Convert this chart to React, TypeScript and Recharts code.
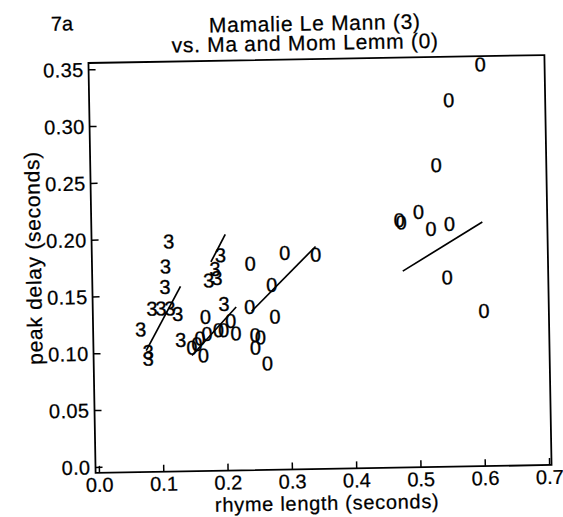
import React from "react";
import {
  ScatterChart,
  Scatter,
  XAxis,
  YAxis,
  ReferenceLine,
  ReferenceArea,
} from "recharts";

// Mamalie Le Mann (3)
const mamalieX = [0.114, 0.108, 0.107, 0.086, 0.1, 0.114, 0.126, 0.068, 0.079, 0.079, 0.13, 0.198, 0.194, 0.185, 0.175, 0.188];
const mamalieY = [0.198, 0.176, 0.158, 0.139, 0.139, 0.139, 0.134, 0.121, 0.101, 0.095, 0.111, 0.142, 0.185, 0.173, 0.163, 0.165];

// Ma and Mom Lemm (0)
const lemmX = [
  0.169, 0.147, 0.155, 0.16, 0.171, 0.165, 0.189, 0.197, 0.208, 0.216, 0.238, 0.246, 0.254, 0.246, 0.264,
  0.277, 0.273, 0.24, 0.294, 0.342, 0.603, 0.553, 0.532, 0.473, 0.476, 0.503, 0.522, 0.551, 0.546, 0.602,
];
const lemmY = [
  0.131, 0.104, 0.107, 0.112, 0.116, 0.097, 0.119, 0.119, 0.127, 0.116, 0.139, 0.114, 0.112, 0.103, 0.089,
  0.13, 0.158, 0.177, 0.186, 0.184, 0.349, 0.318, 0.261, 0.213, 0.211, 0.22, 0.205, 0.209, 0.162, 0.132,
];

// fitted line segments [x1, y1, x2, y2]
const fitLines = [
  [0.076, 0.102, 0.131, 0.158],
  [0.179, 0.179, 0.202, 0.203],
  [0.147, 0.097, 0.217, 0.139],
  [0.241, 0.135, 0.342, 0.191],
  [0.477, 0.168, 0.602, 0.21],
];

const xTicks = [0, 0.1, 0.2, 0.3, 0.4, 0.5, 0.6, 0.7];
const xTickLabels = ["0.0", "0.1", "0.2", "0.3", "0.4", "0.5", "0.6", "0.7"];
const yTicks = [0, 0.05, 0.1, 0.15, 0.2, 0.25, 0.3, 0.35];
const yTickLabels = ["0.0", "0.05", "0.10", "0.15", "0.20", "0.25", "0.30", "0.35"];

const X_DOMAIN: [number, number] = [-0.006, 0.703];
const Y_DOMAIN: [number, number] = [-0.0049, 0.356];

const FONT = "'Liberation Sans', Arial, Helvetica, sans-serif";
const INK = "#000";

const mamalie = mamalieX.map((x, i) => ({ x, y: mamalieY[i] }));
const lemm = lemmX.map((x, i) => ({ x, y: lemmY[i] }));

const glyph = (ch: string) => (props: any) => (
  <text
    x={props.cx}
    y={props.cy + 7.2}
    textAnchor="middle"
    fontSize={20}
    fontFamily={FONT}
    fill={INK}
    stroke={INK}
    strokeWidth={0.35}
  >
    {ch}
  </text>
);

const XTick = (props: any) => {
  const { x, y, payload } = props;
  const i = xTicks.indexOf(payload.value);
  return (
    <g>
      <line x1={x} y1={y} x2={x} y2={y - 7} stroke={INK} strokeWidth={1.5} />
      <text x={x} y={y + 19} textAnchor="middle" fontSize={20} fontFamily={FONT} fill={INK} stroke={INK} strokeWidth={0.25}>
        {xTickLabels[i]}
      </text>
    </g>
  );
};

const YTick = (props: any) => {
  const { x, y, payload } = props;
  const i = yTicks.indexOf(payload.value);
  return (
    <g>
      <line x1={x} y1={y} x2={x + 7} y2={y} stroke={INK} strokeWidth={1.5} />
      <text x={x - 5} y={y + 7} textAnchor="end" fontSize={20} letterSpacing={0.4} fontFamily={FONT} fill={INK} stroke={INK} strokeWidth={0.25}>
        {yTickLabels[i]}
      </text>
    </g>
  );
};

export default function App() {
  return (
    <div
      style={{
        position: "absolute",
        left: 0,
        top: 0,
        width: 563,
        height: 517,
        transform: "rotate(-1deg)",
        transformOrigin: "319.6px 263.9px",
      }}
    >
      <ScatterChart
        width={563}
        height={517}
        margin={{ top: 59, right: 15, bottom: 0, left: 0 }}
      >
        <XAxis
          type="number"
          dataKey="x"
          domain={X_DOMAIN}
          allowDataOverflow
          ticks={xTicks}
          interval={0}
          height={48}
          tickSize={0}
          tickMargin={0}
          axisLine={false}
          tickLine={false}
          tick={<XTick />}
        />
        <YAxis
          type="number"
          dataKey="y"
          domain={Y_DOMAIN}
          allowDataOverflow
          ticks={yTicks}
          interval={0}
          width={92}
          tickSize={0}
          tickMargin={0}
          axisLine={false}
          tickLine={false}
          tick={<YTick />}
        />
        <ReferenceArea
          x1={X_DOMAIN[0]}
          x2={X_DOMAIN[1]}
          y1={Y_DOMAIN[0]}
          y2={Y_DOMAIN[1]}
          fill="none"
          stroke={INK}
          strokeWidth={1.8}
          ifOverflow="visible"
        />
        {fitLines.map((s, i) => (
          <ReferenceLine
            key={i}
            segment={[
              { x: s[0], y: s[1] },
              { x: s[2], y: s[3] },
            ]}
            stroke={INK}
            strokeWidth={1.7}
            ifOverflow="visible"
          />
        ))}
        <Scatter data={lemm} shape={glyph("0")} isAnimationActive={false} />
        <Scatter data={mamalie} shape={glyph("3")} isAnimationActive={false} />
      </ScatterChart>
      <svg
        width={563}
        height={517}
        style={{ position: "absolute", left: 0, top: 0, pointerEvents: "none" }}
      >
        <g fontFamily={FONT} fill={INK} stroke={INK} strokeWidth={0.25}>
          <text x={55} y={26} fontSize={20}>
            7a
          </text>
          <text x={319} y={30.5} fontSize={21} letterSpacing={0.7} textAnchor="middle">
            Mamalie Le Mann (3)
          </text>
          <text x={309} y={50} fontSize={21} letterSpacing={0.7} textAnchor="middle">
            vs. Ma and Mom Lemm (0)
          </text>
          <text x={323} y={510} fontSize={20} letterSpacing={0.7} textAnchor="middle">
            rhyme length (seconds)
          </text>
          <text
            x={41}
            y={253}
            fontSize={21}
            letterSpacing={0.7}
            textAnchor="middle"
            transform="rotate(-90 41 253)"
          >
            peak delay (seconds)
          </text>
        </g>
      </svg>
    </div>
  );
}
